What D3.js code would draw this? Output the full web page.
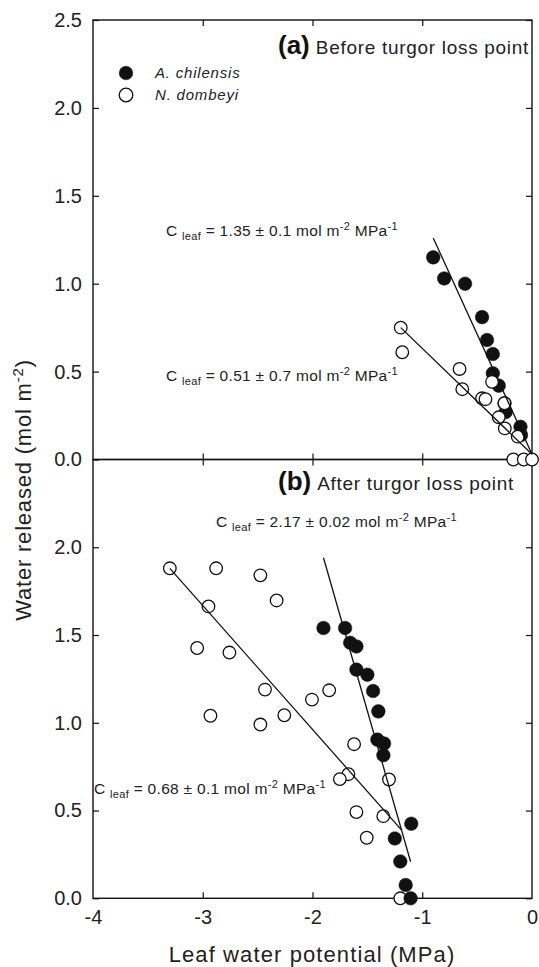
<!DOCTYPE html>
<html>
<head>
<meta charset="utf-8">
<script src="https://cdn.jsdelivr.net/npm/d3@7"></script>
<style>
  body { margin: 0; background: #fff; }
  svg { display: block; font-family: "Liberation Sans", Arial, sans-serif; }
</style>
</head>
<body>
<div id="chart"></div>
<script>
// values: [leaf water potential (MPa), water released (mol m-2)]
var topChilensis = [[-0.90,1.15],[-0.80,1.03],[-0.61,1.00],[-0.455,0.81],[-0.41,0.68],[-0.357,0.60],
  [-0.357,0.49],[-0.303,0.42],[-0.25,0.32],[-0.24,0.27],[-0.105,0.186],[-0.10,0.14]];
var topDombeyi = [[-1.196,0.75],[-1.182,0.61],[-0.66,0.515],[-0.635,0.40],[-0.455,0.348],[-0.424,0.343],
  [-0.364,0.442],[-0.251,0.32],[-0.303,0.24],[-0.248,0.177],[-0.13,0.13],[-0.17,0],[-0.075,0],[0,0]];
var botChilensis = [[-1.90,1.54],[-1.703,1.54],[-1.657,1.456],[-1.60,1.435],[-1.60,1.303],[-1.50,1.274],
  [-1.448,1.181],[-1.40,1.065],[-1.409,0.904],[-1.348,0.882],[-1.354,0.815],[-1.10,0.425],[-1.25,0.341],
  [-1.20,0.21],[-1.151,0.076],[-1.106,0]];
var botDombeyi = [[-3.30,1.88],[-2.878,1.88],[-2.475,1.84],[-2.948,1.663],[-3.051,1.426],[-2.757,1.40],
  [-2.433,1.189],[-2.327,1.697],[-1.848,1.185],[-2.005,1.132],[-2.93,1.04],[-2.475,0.99],[-2.257,1.043],
  [-1.621,0.878],[-1.673,0.707],[-1.751,0.679],[-1.303,0.677],[-1.60,0.491],[-1.355,0.468],[-1.506,0.345],[-1.20,0]];

// regression lines (end points)
var fitTopChil = [[-0.90,1.26],[0,0.03]];
var fitTopDomb = [[-1.196,0.75],[0,0.03]];
var fitBotChil = [[-1.90,1.94],[-1.106,0.208]];
var fitBotDomb = [[-3.30,1.88],[-1.19,0.39]];

var xTicks = [-4,-3,-2,-1,0];
var yTicksTop = [0,0.5,1,1.5,2,2.5];
var yTicksBot = [0,0.5,1,1.5,2];
var legendNames = ["A. chilensis","N. dombeyi"];
var titles = [["(a)","Before turgor loss point"],["(b)","After turgor loss point"]];
var cleafText = ["1.35 ± 0.1","0.51 ± 0.7","2.17 ± 0.02","0.68 ± 0.1"];

var width = 539, height = 967;
var plotL = 93, plotR = 532, plotT = 20, plotM = 459.5, plotB = 898.3;
var ink = "#111";

var svg = d3.select("#chart").append("svg")
    .attr("width", width).attr("height", height);

var x = d3.scaleLinear().domain([-4,0]).range([plotL,plotR]);
var yTop = d3.scaleLinear().domain([0,2.5]).range([plotM,plotT]);
var yBot = d3.scaleLinear().domain([0,2.5]).range([plotB,plotM]);

function drawPanel(y, yTicks, y0, y1) {
  var g = svg.append("g");
  g.append("g").attr("transform","translate("+plotL+",0)")
    .call(d3.axisLeft(y).tickValues(yTicks).tickSizeInner(-6).tickSizeOuter(0).tickPadding(11).tickFormat(d3.format(".1f")));
  g.append("g").attr("transform","translate("+plotR+",0)")
    .call(d3.axisRight(y).tickValues(yTicks).tickSizeInner(-6).tickSizeOuter(0).tickFormat(""));
  g.append("g").attr("transform","translate(0,"+y1+")")
    .call(d3.axisTop(x).tickValues([-3,-2,-1]).tickSizeInner(-6).tickSizeOuter(0).tickFormat(""));
  g.append("g").attr("transform","translate(0,"+y0+")")
    .call(d3.axisBottom(x).tickValues([-3,-2,-1]).tickSizeInner(-6).tickSizeOuter(0).tickFormat(""));
  g.selectAll(".domain").remove();
  g.append("rect").attr("x",plotL).attr("y",y1).attr("width",plotR-plotL).attr("height",y0-y1)
    .attr("fill","none").attr("stroke",ink).attr("stroke-width",1.4);
  g.selectAll(".tick line").attr("stroke",ink).attr("stroke-width",1.2);
  g.selectAll(".tick text").attr("fill","#222").style("font-size","20px")
    .style("font-family","Liberation Sans, Arial, sans-serif");
  return g;
}

function dots(data, y, filled) {
  svg.append("g").selectAll("circle").data(data).enter().append("circle")
    .attr("cx", function(d){ return x(d[0]); })
    .attr("cy", function(d){ return y(d[1]); })
    .attr("r", filled ? 6.8 : 6.3)
    .attr("fill", filled ? ink : "#fff")
    .attr("stroke", ink).attr("stroke-width", filled ? 0.5 : 1.3);
}

function fitLine(data, y) {
  svg.append("path").datum(data)
    .attr("d", d3.line().x(function(d){ return x(d[0]); }).y(function(d){ return y(d[1]); }))
    .attr("fill","none").attr("stroke",ink).attr("stroke-width",1.3);
}

function cleaf(px, py, val) {
  var t = svg.append("text").attr("x",px).attr("y",py).attr("fill","#222")
    .style("font-size","15.5px").style("letter-spacing","0.3px");
  t.append("tspan").text("C ");
  t.append("tspan").attr("dy",4).style("font-size","11px").text("leaf");
  t.append("tspan").attr("dy",-4).text(" = " + val + " mol m");
  t.append("tspan").attr("dy",-6).style("font-size","11px").text("-2");
  t.append("tspan").attr("dy",6).text(" MPa");
  t.append("tspan").attr("dy",-6).style("font-size","11px").text("-1");
}

function title(px, py, k) {
  var t = svg.append("text").attr("x",px).attr("y",py).attr("fill","#111");
  t.append("tspan").style("font-size","26px").style("font-weight","bold").text(titles[k][0]);
  t.append("tspan").attr("dx",6).style("font-size","19px").style("letter-spacing","0.7px").attr("fill","#222").text(titles[k][1]);
}

drawPanel(yTop, yTicksTop, plotM, plotT);
drawPanel(yBot, yTicksBot, plotB, plotM);

// x tick labels under bottom panel
svg.append("g").attr("transform","translate(0,"+plotB+")")
  .call(d3.axisBottom(x).tickValues(xTicks).tickSize(0).tickPadding(12).tickFormat(d3.format("d")))
  .call(function(g){ g.select(".domain").remove(); })
  .selectAll("text").attr("fill","#222").style("font-size","20px")
  .style("font-family","Liberation Sans, Arial, sans-serif")
  .text(function(d){ return d < 0 ? "-" + Math.abs(d) : d; });

// top panel
dots(topChilensis, yTop, true);
dots(topDombeyi, yTop, false);
fitLine(fitTopChil, yTop);
fitLine(fitTopDomb, yTop);

// bottom panel
dots(botDombeyi, yBot, false);
dots(botChilensis, yBot, true);
fitLine(fitBotChil, yBot);
fitLine(fitBotDomb, yBot);

title(278, 54, 0);
title(278, 490, 1);

cleaf(166, 236, cleafText[0]);
cleaf(166, 381, cleafText[1]);
cleaf(216, 527, cleafText[2]);
cleaf(94, 794, cleafText[3]);

// legend
legendNames.forEach(function(n, i) {
  svg.append("circle").attr("cx",126).attr("cy",73 + i*22).attr("r",6.8)
    .attr("fill", i === 0 ? ink : "#fff").attr("stroke",ink).attr("stroke-width", i === 0 ? 0.5 : 1.3);
  svg.append("text").attr("x",155).attr("y",78 + i*22).attr("fill","#222")
    .style("font-size","15px").style("font-style","italic").style("letter-spacing","0.8px").text(n);
});

// axis titles
var yl = svg.append("text").attr("transform","translate(31,490) rotate(-90)")
  .attr("text-anchor","middle").attr("fill","#222").style("font-size","22px").style("letter-spacing","0.8px");
yl.append("tspan").text("Water released (mol m");
yl.append("tspan").attr("dy",-8).style("font-size","15px").text("-2");
yl.append("tspan").attr("dy",8).text(")");

svg.append("text").attr("x",312).attr("y",962).attr("text-anchor","middle").attr("fill","#222")
  .style("font-size","22px").style("letter-spacing","1.1px").text("Leaf water potential (MPa)");
</script>
</body>
</html>
